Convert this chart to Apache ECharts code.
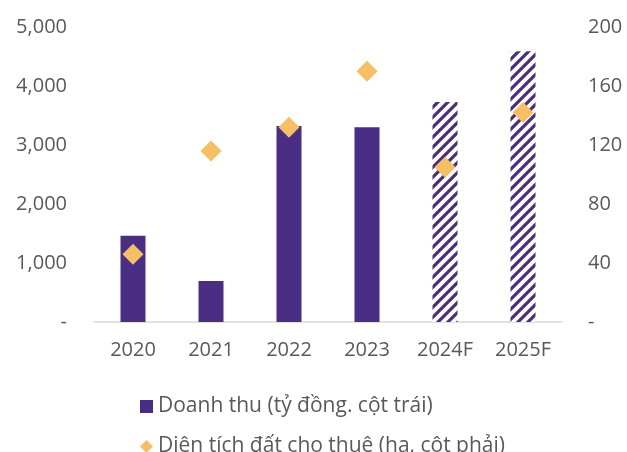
<!DOCTYPE html>
<html><head><meta charset="utf-8">
<script src="https://cdn.jsdelivr.net/npm/echarts@6/dist/echarts.min.js"></script>
<style>html,body{margin:0;padding:0;background:#fff}#c{width:627px;height:452px}</style>
</head><body><div id="c"></div>
<script>
const categories = ['2020','2021','2022','2023','2024F','2025F'];
const revenue = [1460, 695, 3320, 3300, 3730, 4590];
const landArea = [46, 116, 132, 170, 105, 142];
const leftTicks = [0, 5000, 1000];
const rightTicks = [0, 200, 40];
const seriesNames = ['Doanh thu (tỷ đồng. cột trái)', 'Diện tích đất cho thuê (ha, cột phải)'];

const PURPLE = '#4A2E83', GOLD = '#F5BF63', TXT = '#595959';
const FONT = '"Open Sans", sans-serif';

function hatch(){
  const s = 10, c = document.createElement('canvas');
  c.width = s; c.height = s;
  const g = c.getContext('2d');
  g.fillStyle = '#fff'; g.fillRect(0,0,s,s);
  g.strokeStyle = PURPLE; g.lineWidth = 3.2; g.lineCap='square';
  g.beginPath();
  g.moveTo(-2, s+2); g.lineTo(s+2, -2);
  g.moveTo(-2, 2); g.lineTo(2, -2);
  g.moveTo(s-2, s+2); g.lineTo(s+2, s-2);
  g.stroke();
  return c;
}
const pattern = {image: hatch(), repeat: 'repeat'};

const chart = echarts.init(document.getElementById('c'));
const fmtL = v => v === 0 ? '-' : v.toLocaleString('en-US');
const legendText = {color: TXT, fontSize: 21, fontFamily: FONT};
chart.setOption({
  animation: false,
  textStyle: {fontFamily: FONT},
  grid: {left: 94, right: 65, top: 27, bottom: 130},
  legend: [{
    left: 135, top: 391, itemWidth: 13, itemHeight: 13,
    textStyle: legendText,
    data: [{name: seriesNames[0], icon: 'rect'}]
  },{
    left: 135, top: 431, itemWidth: 13, itemHeight: 13,
    textStyle: legendText,
    data: [{name: seriesNames[1], icon: 'diamond'}]
  }],
  xAxis: {
    type: 'category', data: categories,
    axisLine: {lineStyle: {color: '#d9d9d9', width: 1.5}},
    axisTick: {show: false},
    axisLabel: {color: TXT, fontSize: 20, margin: 18, fontFamily: FONT}
  },
  yAxis: [{
    type: 'value', min: leftTicks[0], max: leftTicks[1], interval: leftTicks[2],
    splitLine: {show: false}, axisLine: {show: false}, axisTick: {show: false},
    axisLabel: {color: TXT, fontSize: 20, margin: 27, formatter: fmtL, fontFamily: FONT}
  },{
    type: 'value', min: rightTicks[0], max: rightTicks[1], interval: rightTicks[2],
    splitLine: {show: false}, axisLine: {show: false}, axisTick: {show: false},
    axisLabel: {color: TXT, fontSize: 20, margin: 26, formatter: v => v === 0 ? '-' : String(v), fontFamily: FONT}
  }],
  series: [{
    name: seriesNames[0], type: 'bar', barWidth: 25,
    itemStyle: {color: PURPLE},
    data: revenue.map((v, i) => categories[i].endsWith('F')
      ? {value: v, itemStyle: {color: pattern}} : v)
  },{
    name: seriesNames[1], type: 'scatter', yAxisIndex: 1,
    symbol: 'diamond', symbolSize: 21, z: 5,
    itemStyle: {color: GOLD, opacity: 1},
    data: landArea
  }]
});
</script></body></html>
